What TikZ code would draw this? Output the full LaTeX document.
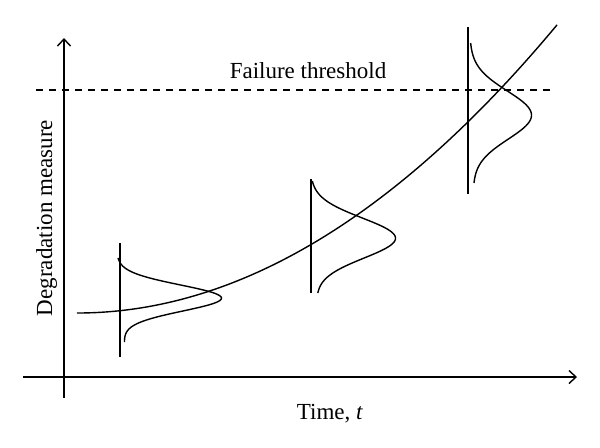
\documentclass[tikz,border=0pt]{standalone}
\usepackage{fontspec}
\setmainfont{Liberation Serif}
\usetikzlibrary{arrows.meta}

\begin{document}
\begin{tikzpicture}[x=0.5pt,y=-0.5pt,line width=0.7pt,
      >={Straight Barb[length=3.5pt,width=6.5pt]},
      lbl/.style={anchor=base,inner sep=0pt,font=\fontsize{11.5}{13}\selectfont}]

    \useasboundingbox (0,0) rectangle (600,447);

    % axes
    \coordinate (xstart) at (23,377);
    \coordinate (xend) at (577,377);
    \coordinate (ybot) at (64,398);
    \coordinate (ytop) at (64,38);
    \draw[->] (xstart) -- (xend);
    \draw[->] (ybot) -- (ytop);

    % threshold
    \coordinate (thl) at (36,90);
    \coordinate (thr) at (556,90);
    \draw[dash pattern=on 3.5pt off 3pt] (thl) -- (thr);

    \node[lbl] (thlabel) at (308,78) {Failure threshold};
    \node[lbl] (xlabel) at (330,419) {Time, \textit{t}};
    \node[lbl,rotate=90] (ylabel) at (52,218) {Degradation measure};

    % degradation path
    \draw plot[domain=77:557,samples=100,smooth] (\x,{313-((\x-77)/28.28)^2});

    % spread at three times
    \foreach \lx/\la/\lb/\xo/\mn/\amp/\sg/\tlt/\ya/\yb in
      {120/243/357/120.5/298/101/13/0.083/258/342,
       311/179/293/313.5/238/82/20/0.045/181/293,
       468/27/194/471.5/115/60/24/0.021/43/183}
    {
      \draw (\lx,\la) -- (\lx,\lb);
      \draw plot[domain=\ya:\yb,samples=80,smooth,variable=\t]
        ({\xo+\tlt*(\t-\mn)+\amp*exp(-0.5*((\t-\mn)/\sg)^2)},\t);
    }

\end{tikzpicture}
\end{document}
